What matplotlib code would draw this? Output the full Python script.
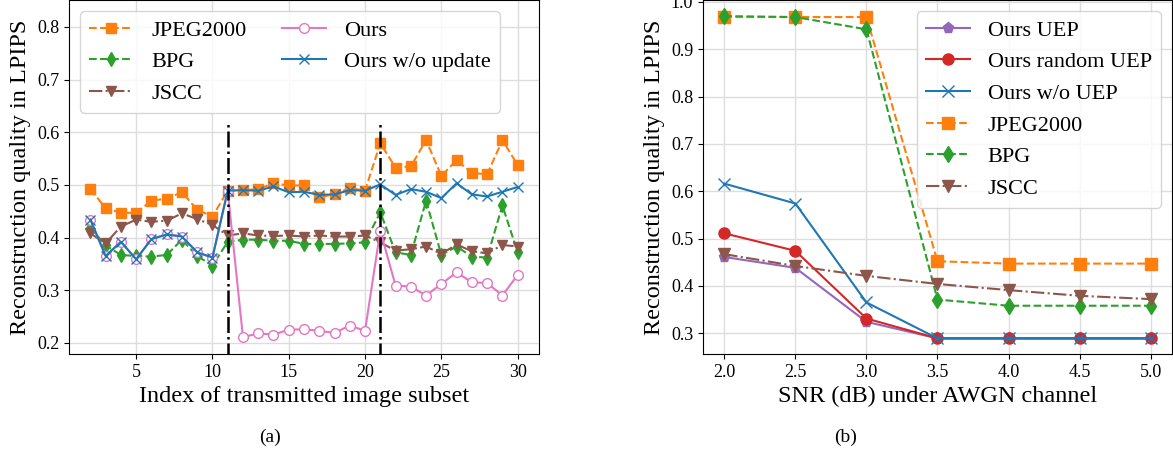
import numpy as np
import matplotlib
matplotlib.use("Agg")
import matplotlib.pyplot as plt

plt.rcParams["font.family"] = ["Liberation Serif", "DejaVu Serif"]

# (a) LPIPS per transmitted image subset
subset_idx = list(range(2, 31))
jpeg_a = [0.492, 0.456, 0.447, 0.447, 0.470, 0.474, 0.486, 0.453, 0.440,
          0.489, 0.490, 0.492, 0.503, 0.499, 0.499, 0.477, 0.482, 0.494, 0.489,
          0.579, 0.533, 0.535, 0.585, 0.517, 0.547, 0.523, 0.520, 0.585, 0.538]
bpg_a = [0.419, 0.385, 0.367, 0.365, 0.364, 0.367, 0.396, 0.365, 0.347,
         0.392, 0.396, 0.396, 0.394, 0.394, 0.388, 0.388, 0.388, 0.389, 0.391,
         0.448, 0.372, 0.367, 0.470, 0.367, 0.383, 0.364, 0.362, 0.461, 0.372]
jscc_a = [0.408, 0.389, 0.421, 0.434, 0.430, 0.432, 0.446, 0.435, 0.424,
          0.404, 0.408, 0.404, 0.403, 0.404, 0.402, 0.404, 0.402, 0.402, 0.404,
          0.391, 0.375, 0.378, 0.383, 0.369, 0.387, 0.374, 0.370, 0.386, 0.383]
ours_a = [0.434, 0.365, 0.392, 0.359, 0.397, 0.406, 0.402, 0.372, 0.362,
          0.489, 0.211, 0.218, 0.216, 0.225, 0.226, 0.223, 0.219, 0.233, 0.223,
          0.413, 0.309, 0.307, 0.290, 0.312, 0.334, 0.315, 0.314, 0.290, 0.329]
noupd_a = [0.434, 0.365, 0.392, 0.359, 0.397, 0.406, 0.402, 0.372, 0.362,
           0.489, 0.490, 0.489, 0.497, 0.486, 0.487, 0.481, 0.482, 0.490, 0.489,
           0.501, 0.481, 0.492, 0.487, 0.475, 0.503, 0.482, 0.478, 0.487, 0.496]
switch_idx = [11, 21]
switch_top = 0.615

# (b) LPIPS vs SNR
snr = [2.0, 2.5, 3.0, 3.5, 4.0, 4.5, 5.0]
uep_b = [0.461, 0.438, 0.324, 0.289, 0.289, 0.289, 0.289]
rand_uep_b = [0.511, 0.474, 0.331, 0.289, 0.289, 0.289, 0.289]
no_uep_b = [0.616, 0.574, 0.365, 0.289, 0.289, 0.289, 0.289]
jpeg_b = [0.968, 0.968, 0.968, 0.452, 0.447, 0.447, 0.447]
bpg_b = [0.970, 0.968, 0.942, 0.371, 0.358, 0.358, 0.358]
jscc_b = [0.467, 0.442, 0.421, 0.404, 0.391, 0.379, 0.372]

W, H = 1173, 450
fig = plt.figure(figsize=(W / 100, H / 100), dpi=100)
ax1 = fig.add_axes([69 / W, 96 / H, 470 / W, 354 / H])
ax2 = fig.add_axes([703 / W, 96 / H, 469 / W, 354 / H])

lw = 1.5
ms = 7
label_fs = 17.5
ax1.plot(subset_idx, jpeg_a, "--", color="tab:orange", marker="s", lw=lw, ms=ms, label="JPEG2000")
ax1.plot(subset_idx, bpg_a, "--", color="tab:green", marker="d", lw=lw, ms=ms, label="BPG")
ax1.plot(subset_idx, jscc_a, "-.", color="tab:brown", marker="v", lw=lw, ms=ms, label="JSCC")
ax1.plot(subset_idx, ours_a, "-", color="tab:pink", marker="o", mfc="white", lw=lw, ms=ms, label="Ours")
ax1.plot(subset_idx, noupd_a, "-", color="tab:blue", marker="x", lw=lw, ms=ms, label="Ours w/o update")
ax1.vlines(switch_idx, 0.17, switch_top, colors="k", linestyles="-.", lw=1.8)
ax1.set_ylim(0.179, 0.851)
ax1.set_yticks([0.2, 0.3, 0.4, 0.5, 0.6, 0.7, 0.8])
ax1.set_xticks([5, 10, 15, 20, 25, 30])
ax1.set_xlabel("Index of transmitted image subset", fontsize=label_fs)
ax1.set_ylabel("Reconstruction quality in LPIPS", fontsize=label_fs)
ax1.legend(loc="upper left", ncol=2, fontsize=16, columnspacing=1.6)

ax2.plot(snr, uep_b, "-", color="tab:purple", marker="p", lw=lw, ms=ms + 1, label="Ours UEP")
ax2.plot(snr, rand_uep_b, "-", color="tab:red", marker="o", lw=lw, ms=ms + 1, label="Ours random UEP")
ax2.plot(snr, no_uep_b, "-", color="tab:blue", marker="x", lw=lw, ms=ms + 1, label="Ours w/o UEP")
ax2.plot(snr, jpeg_b, "--", color="tab:orange", marker="s", lw=lw, ms=ms + 1, label="JPEG2000")
ax2.plot(snr, bpg_b, "--", color="tab:green", marker="d", lw=lw, ms=ms + 1, label="BPG")
ax2.plot(snr, jscc_b, "-.", color="tab:brown", marker="v", lw=lw, ms=ms + 1, label="JSCC")
ax2.set_ylim(0.256, 1.004)
ax2.set_yticks([0.3, 0.4, 0.5, 0.6, 0.7, 0.8, 0.9, 1.0])
ax2.set_xlabel("SNR (dB) under AWGN channel", fontsize=label_fs)
ax2.set_ylabel("Reconstruction quality in LPIPS", fontsize=label_fs)
ax2.legend(loc="upper right", fontsize=16)

for ax in (ax1, ax2):
    ax.grid(True, color="#dddddd", lw=1)
    ax.set_axisbelow(True)
    ax.tick_params(labelsize=13)

fig.text(270 / W, 1 - 437 / H, "(a)", ha="center", va="center", fontsize=14)
fig.text(846 / W, 1 - 437 / H, "(b)", ha="center", va="center", fontsize=14)

fig.savefig("out.png", dpi=100)
